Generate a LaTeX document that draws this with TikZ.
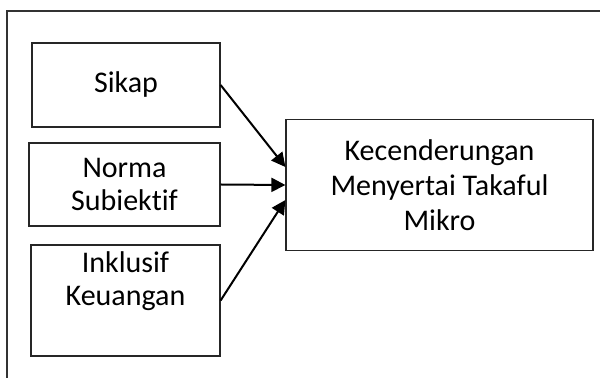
\documentclass[tikz,border=0pt]{standalone}
\usepackage{fontspec}
\setmainfont{Carlito}[Ligatures=NoCommon]
\usetikzlibrary{arrows.meta,positioning}
\tikzset{
  var/.style={draw=black!85,line width=0.6pt,align=center,font=\fontsize{15}{16.3}\selectfont,inner sep=0pt},
  link/.style={-{Triangle[length=7pt,width=7pt]},line width=1pt,draw=black},
  frame/.style={draw=black!80,line width=0.6pt},
}

\begin{document}
\begin{tikzpicture}[x=0.5pt,y=-0.5pt]
  \useasboundingbox (0,0) rectangle (600,378);
  \draw[frame] (7,378) -- (7,11) -- (600,11);
  \node[var,minimum width=94pt,minimum height=42pt] (sikap) at (126,85) {Sikap};
  \node[var,minimum width=95.5pt,minimum height=41.5pt] (norma) at (124.5,184.5) {Norma\\Subiektif};
  \node[var,minimum width=94.5pt,minimum height=55.5pt,text depth=22pt] (inklusif) at (125.5,300.5) {Inklusif\\Keuangan};
  \node[var,minimum width=153.5pt,minimum height=65.5pt,font=\fontsize{15}{17.5}\selectfont] (kec) at (439.5,185) {Kecenderungan\\Menyertai Takaful\\Mikro};
  \draw[link] (sikap.east) -- ([yshift=9pt]kec.west);
  \draw[link] (norma.east) -- (kec.west);
  \draw[link] (inklusif.east) -- ([yshift=-7.5pt]kec.west);
\end{tikzpicture}
\end{document}
